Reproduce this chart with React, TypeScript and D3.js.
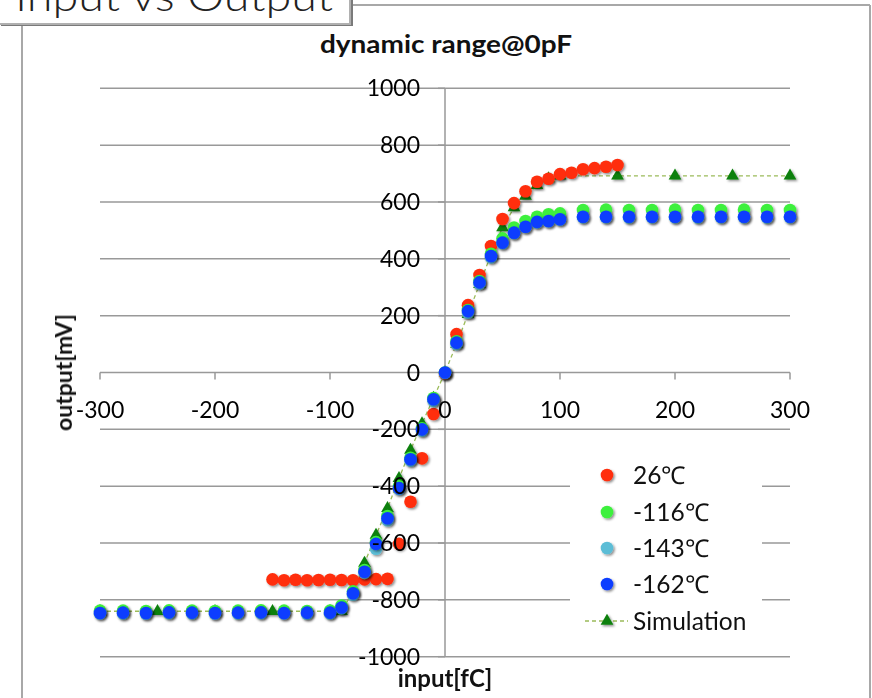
import * as d3 from 'd3';

// 26℃ series
const redX = [-150, -140, -130, -120, -110, -100, -90, -80, -70, -60, -50, -40, -30, -20, -10, 0,
  10, 20, 30, 40, 50, 60, 70, 80, 90, 100, 110, 120, 130, 140, 150];
const redY = [-728, -731, -729, -731, -730, -729, -730, -731, -728, -727, -726, -603, -455, -302, -146, -4,
  135, 237, 343, 445, 540, 596, 638, 671, 682, 698, 703, 715, 719, 724, 730];

// shared x positions for the three cold series
const coldX = [-300, -280, -260, -240, -220, -200, -180, -160, -140, -120, -100,
  -90, -80, -70, -60, -50, -40, -30, -20, -10, 0,
  10, 20, 30, 40, 50, 60, 70, 80, 90, 100,
  120, 140, 160, 180, 200, 220, 240, 260, 280, 300];
const greenY = [-838, -838, -839, -837, -838, -839, -838, -837, -838, -839, -838,
  -820, -770, -695, -597, -505, -400, -300, -196, -90, 0,
  110, 220, 322, 418, 472, 510, 533, 548, 557, 560,
  572, 573, 572, 572, 573, 572, 572, 573, 572, 572];
const cyanY = [-848, -848, -849, -847, -848, -849, -848, -847, -848, -849, -848,
  -830, -782, -705, -620, -520, -410, -310, -205, -100, -2,
  100, 210, 312, 405, 455, 490, 512, 528, 532, 538,
  546, 546, 545, 546, 546, 545, 546, 546, 545, 546];
const blueY = [-846, -845, -846, -844, -845, -846, -845, -844, -846, -845, -845,
  -827, -777, -701, -603, -513, -407, -305, -200, -94, 0,
  105, 216, 317, 410, 457, 492, 513, 530, 533, 539,
  548, 548, 548, 548, 548, 548, 548, 548, 548, 548];

// simulation
const simX = [-300, -250, -200, -150, -100, -90, -80, -70, -60, -50, -40, -30, -20, -10, 0,
  10, 20, 30, 40, 50, 60, 70, 80, 90, 100, 150, 200, 250, 300];
const simY = [-840, -840, -840, -840, -840, -840, -770, -671, -572, -478, -372, -273, -180, -90, 0,
  100, 205, 310, 415, 510, 580, 621, 659, 682, 692, 692, 692, 692, 692];

const xTicks = [-300, -200, -100, 0, 100, 200, 300];
const yTicks = [-1000, -800, -600, -400, -200, 0, 200, 400, 600, 800, 1000];

const series = [
  { label: '26℃', color: '#ff2d0a', xs: redX, ys: redY },
  { label: '-116℃', color: '#3ef03e', xs: coldX, ys: greenY },
  { label: '-143℃', color: '#5bbdd6', xs: coldX, ys: cyanY },
  { label: '-162℃', color: '#0a3cff', xs: coldX, ys: blueY },
];

const W = 872;
const H = 698;
const FONT = 'Lato, "Open Sans", sans-serif';
const GRID = '#999999';

export default function App() {
  const x = d3.scaleLinear().domain([-300, 300]).range([100, 790]);
  const y = d3.scaleLinear().domain([-1000, 1000]).range([656.7, 88.3]);

  const sim = simX.map((v, i) => ({ x: v, y: simY[i] }));
  const simLine = d3.line<{ x: number; y: number }>()
    .x((d) => x(d.x))
    .y((d) => y(d.y))(sim);
  const tri = d3.symbol().type(d3.symbolTriangle).size(70)();

  const legendY = [475, 512, 548, 584];

  return (
    <svg width={W} height={H} style={{ position: 'absolute', left: 0, top: 0, background: '#fff' }}>
      <defs>
        <filter id="shadow" x="-50%" y="-50%" width="200%" height="200%">
          <feDropShadow dx={1.5} dy={1.5} stdDeviation={1.2} floodColor="#000" floodOpacity={0.45} />
        </filter>
      </defs>

      {/* frame */}
      <line x1={22} x2={22} y1={26} y2={H} stroke="#a8a8a8" strokeWidth={2} />
      <line x1={352} x2={870} y1={5} y2={5} stroke="#a8a8a8" strokeWidth={2} />
      <line x1={870} x2={870} y1={5} y2={H} stroke="#a8a8a8" strokeWidth={2} />

      {/* title box, its text is clipped at the top edge as in the source slide */}
      <rect x={1} y={-10} width={352} height={36} fill="#7a7a7a" />
      <rect x={-2} y={-12} width={352} height={36} fill="#fff" stroke="#b0b0b0" strokeWidth={2} />
      <text x={15} y={11} fontFamily={FONT} fontWeight={300} fontSize={42} fill="#222"
        textLength={318} lengthAdjust="spacingAndGlyphs">Input vs Output</text>

      {/* chart title */}
      <text x={446} y={53} textAnchor="middle" fontFamily={FONT} fontWeight={700} fontSize={25} fill="#111"
        textLength={252} lengthAdjust="spacingAndGlyphs">
        dynamic range@0pF
      </text>

      {/* grid */}
      {yTicks.map((t) => (
        <line key={`g${t}`} x1={100} x2={790} y1={y(t)} y2={y(t)} stroke={GRID} strokeWidth={1.5} />
      ))}
      {/* axes */}
      <line x1={x(0)} x2={x(0)} y1={y(1000)} y2={y(-1000)} stroke={GRID} strokeWidth={1.5} />
      {xTicks.map((t) => (
        <line key={`xt${t}`} x1={x(t)} x2={x(t)} y1={y(0)} y2={y(0) + 7} stroke={GRID} strokeWidth={1.5} />
      ))}
      {yTicks.map((t) => (
        <line key={`yt${t}`} x1={x(0) - 7} x2={x(0)} y1={y(t)} y2={y(t)} stroke={GRID} strokeWidth={1.5} />
      ))}

      {/* simulation */}
      <path d={simLine ?? ''} fill="none" stroke="#9bbb59" strokeWidth={1.3} strokeDasharray="4,3" />
      <g filter="url(#shadow)">
        {sim.map((d, i) => (
          <path key={`s${i}`} d={tri ?? ''} transform={`translate(${x(d.x)},${y(d.y)})`} fill="#0a800a" />
        ))}
      </g>

      {/* measured series */}
      {series.map((s) => (
        <g key={s.label} filter="url(#shadow)">
          {s.xs.map((v, i) => (
            <circle key={i} cx={x(v)} cy={y(s.ys[i])} r={6.3} fill={s.color} />
          ))}
        </g>
      ))}

      {/* tick labels */}
      {xTicks.map((t) => (
        <text key={`xl${t}`} x={x(t)} y={410} dy="0.35em" textAnchor="middle" fontFamily={FONT} fontSize={23} fill="#000">
          {t}
        </text>
      ))}
      {yTicks.map((t) => (
        <text key={`yl${t}`} x={420} y={y(t)} dy="0.35em" textAnchor="end" fontFamily={FONT} fontSize={23} fill="#000">
          {t}
        </text>
      ))}

      {/* axis titles */}
      <text x={445} y={687} textAnchor="middle" fontFamily={FONT} fontWeight={700} fontSize={24} fill="#111">
        input[fC]
      </text>
      <text transform={`translate(72,${y(0)}) rotate(-90)`} textAnchor="middle" fontFamily={FONT} fontWeight={700} fontSize={23} fill="#111">
        output[mV]
      </text>

      {/* legend */}
      <rect x={570} y={455} width={192} height={185} fill="#fff" />
      {series.map((s, i) => (
        <g key={`lg${i}`} filter="url(#shadow)">
          <circle cx={607} cy={legendY[i]} r={6.3} fill={s.color} />
        </g>
      ))}
      {series.map((s, i) => (
        <text key={`lt${i}`} x={633} y={legendY[i]} dy="0.35em" fontFamily={FONT} fontSize={24.5} fill="#111">
          {s.label}
        </text>
      ))}
      <line x1={585} x2={628} y1={621} y2={621} stroke="#9bbb59" strokeWidth={1.3} strokeDasharray="4,3" />
      <path d={tri ?? ''} transform="translate(607,621)" fill="#0a800a" filter="url(#shadow)" />
      <text x={633} y={621} dy="0.35em" fontFamily={FONT} fontSize={24.5} fill="#111">Simulation</text>
    </svg>
  );
}
